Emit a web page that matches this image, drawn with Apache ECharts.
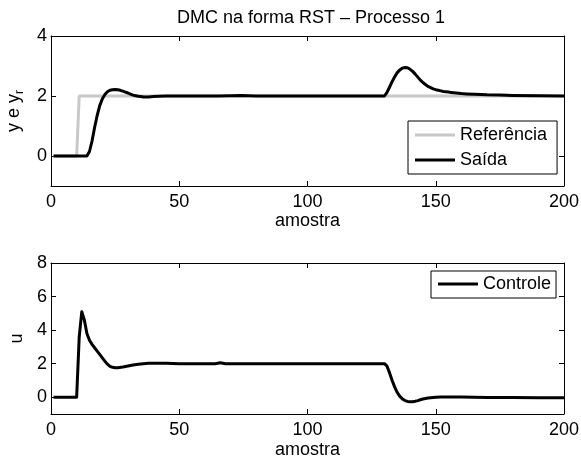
<!DOCTYPE html>
<html>
<head>
<meta charset="utf-8">
<script src="https://cdn.jsdelivr.net/npm/echarts@6/dist/echarts.min.js"></script>
<style>
  html, body { margin: 0; padding: 0; background: #fff; }
  #chart { width: 581px; height: 463px; }
</style>
</head>
<body>
<div id="chart"></div>
<script>
// Sample index range and tick labels
const xTicks = [0, 50, 100, 150, 200];
const yTicksTop = [0, 2, 4];
const yTicksBottom = [0, 2, 4, 6, 8];

// Reference signal (setpoint step) as [amostra, valor]
const referencia = [[1, 0], [10, 0], [11, 2], [200, 2]];

// Plant output
const saida = [
  [1, 0], [14, 0], [15, 0.15], [16, 0.5], [17, 0.95], [18, 1.35], [19, 1.68], [20, 1.9],
  [21, 2.05], [22, 2.14], [23, 2.19], [24, 2.21], [25, 2.22], [26, 2.21], [27, 2.19],
  [28, 2.16], [29, 2.13], [30, 2.1], [31, 2.06], [32, 2.03], [33, 2.01], [34, 1.99],
  [35, 1.98], [36, 1.97], [38, 1.97], [40, 1.98], [42, 1.99], [45, 2.0], [65, 2.0],
  [70, 2.01], [74, 2.02], [80, 2.0], [130, 2.0],
  [131, 2.12], [132, 2.3], [133, 2.48], [134, 2.64], [135, 2.78], [136, 2.87], [137, 2.93],
  [138, 2.95], [139, 2.94], [140, 2.89], [141, 2.82], [142, 2.73], [143, 2.63], [144, 2.53],
  [145, 2.45], [146, 2.38], [147, 2.32], [148, 2.28], [149, 2.24], [150, 2.21], [151, 2.19],
  [152, 2.17], [153, 2.15], [154, 2.14], [155, 2.13], [156, 2.12], [157, 2.11], [158, 2.1],
  [159, 2.09], [160, 2.08], [162, 2.07], [165, 2.06], [170, 2.04], [175, 2.03], [180, 2.02],
  [190, 2.01], [200, 2.0]
];

// Control signal
const controle = [
  [1, 0], [10, 0], [11, 3.6], [12, 5.1], [13, 4.6], [14, 3.8], [15, 3.4], [16, 3.15],
  [17, 2.95], [18, 2.75], [19, 2.55], [20, 2.35], [21, 2.15], [22, 1.97], [23, 1.84],
  [24, 1.78], [25, 1.76], [26, 1.76], [28, 1.8], [30, 1.86], [32, 1.92], [34, 1.97],
  [36, 2.0], [38, 2.02], [40, 2.03], [45, 2.02], [50, 2.0], [64, 2.0], [66, 2.06],
  [68, 2.0], [130, 2.0],
  [131, 1.85], [132, 1.45], [133, 1.0], [134, 0.6], [135, 0.28], [136, 0.05], [137, -0.1],
  [138, -0.2], [139, -0.25], [140, -0.27], [141, -0.27], [142, -0.24], [143, -0.2],
  [144, -0.15], [145, -0.11], [146, -0.08], [147, -0.05], [148, -0.03], [149, -0.01],
  [150, 0], [152, 0.02], [155, 0.02], [160, 0.01], [165, 0], [170, -0.01], [180, -0.02],
  [190, -0.03], [200, -0.03]
];

const FONT = '"Liberation Sans", Arial, Helvetica, sans-serif';
const FS = 18;
const chart = echarts.init(document.getElementById('chart'), null, { renderer: 'canvas' });

const axisLine = { show: true, onZero: false, lineStyle: { color: '#000', width: 1 } };
const tick = { inside: true, length: 5, lineStyle: { color: '#000' } };

function xAxisPair(gridIndex, nameGap) {
  return [
    {
      type: 'value', gridIndex, min: 0, max: 200, interval: 50, position: 'bottom',
      axisLine, splitLine: { show: false },
      axisTick: Object.assign({ customValues: xTicks }, tick),
      axisLabel: { customValues: xTicks, color: '#000', fontFamily: FONT, fontSize: FS, margin: 7 },
      name: 'amostra', nameLocation: 'middle', nameGap,
      nameTextStyle: { color: '#000', fontFamily: FONT, fontSize: FS }
    },
    {
      type: 'value', gridIndex, min: 0, max: 200, interval: 50, position: 'top',
      axisLine, splitLine: { show: false },
      axisTick: Object.assign({ customValues: xTicks }, tick),
      axisLabel: { show: false }
    }
  ];
}

function yAxisPair(gridIndex, max, ticks, name, nameGap, rich) {
  return [
    {
      type: 'value', gridIndex, min: -1, max, position: 'left',
      axisLine, splitLine: { show: false },
      axisTick: Object.assign({ customValues: ticks }, tick),
      axisLabel: { customValues: ticks, color: '#000', fontFamily: FONT, fontSize: FS, margin: 4 },
      name, nameLocation: 'middle', nameGap, nameRotate: 90,
      nameTextStyle: { color: '#000', fontFamily: FONT, fontSize: FS, rich }
    },
    {
      type: 'value', gridIndex, min: -1, max, position: 'right',
      axisLine, splitLine: { show: false },
      axisTick: Object.assign({ customValues: ticks }, tick),
      axisLabel: { show: false }
    }
  ];
}

const subRich = {
  a: { fontFamily: FONT, fontSize: FS, color: '#000', lineHeight: 24 },
  s: { fontFamily: FONT, fontSize: 12, color: '#000', lineHeight: 12, verticalAlign: 'bottom' }
};

const legendText = { fontFamily: FONT, fontSize: FS, color: '#000' };

const option = {
  animation: false,
  backgroundColor: '#fff',
  title: {
    text: 'DMC na forma RST \u2013 Processo 1',
    left: 306, top: 4, textAlign: 'center',
    textStyle: { fontFamily: FONT, fontSize: FS, fontWeight: 'normal', color: '#000' }
  },
  grid: [
    { left: 51, top: 36, width: 513, height: 150, outerBoundsMode: 'none', containLabel: false },
    { left: 51, top: 263, width: 513, height: 151, outerBoundsMode: 'none', containLabel: false }
  ],
  xAxis: [...xAxisPair(0, 24), ...xAxisPair(1, 27)],
  yAxis: [
    ...yAxisPair(0, 4, yTicksTop, '{a|y e y}{s|r}', 23, subRich),
    ...yAxisPair(1, 8, yTicksBottom, 'u', 19, undefined)
  ],
  legend: [
    {
      orient: 'vertical', left: 408, top: 121, data: ['Refer\u00eancia', 'Sa\u00edda'],
      icon: 'rect', itemWidth: 40, itemHeight: 3, itemGap: 7, padding: [5, 10, 5, 7],
      borderColor: '#000', borderWidth: 1, backgroundColor: '#fff', borderRadius: 0,
      textStyle: legendText
    },
    {
      orient: 'vertical', left: 431, top: 271, data: ['Controle'],
      icon: 'rect', itemWidth: 40, itemHeight: 3, padding: [4, 5, 5, 7],
      borderColor: '#000', borderWidth: 1, backgroundColor: '#fff', borderRadius: 0,
      textStyle: legendText
    }
  ],
  series: [
    {
      name: 'Refer\u00eancia', type: 'line', xAxisIndex: 0, yAxisIndex: 0,
      data: referencia, symbol: 'none', z: 2,
      lineStyle: { color: '#c8c8c8', width: 3 }, itemStyle: { color: '#c8c8c8' }
    },
    {
      name: 'Sa\u00edda', type: 'line', xAxisIndex: 0, yAxisIndex: 0,
      data: saida, symbol: 'none', z: 3,
      lineStyle: { color: '#000', width: 3, join: 'round' }, itemStyle: { color: '#000' }
    },
    {
      name: 'Controle', type: 'line', xAxisIndex: 2, yAxisIndex: 2,
      data: controle, symbol: 'none', z: 3,
      lineStyle: { color: '#000', width: 3, join: 'round' }, itemStyle: { color: '#000' }
    }
  ]
};

chart.setOption(option);
</script>
</body>
</html>
